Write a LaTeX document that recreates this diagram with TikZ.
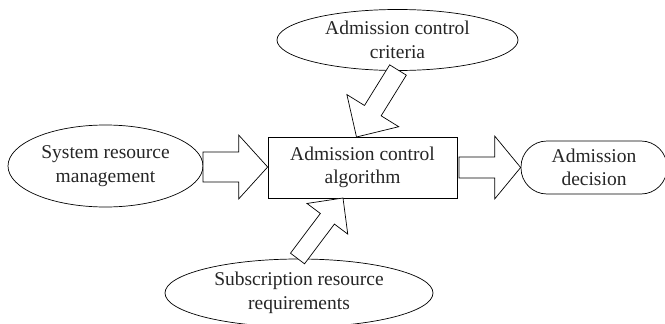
\documentclass[tikz,border=0pt]{standalone}
\usepackage{fontspec}
\setmainfont{Liberation Serif}
\usetikzlibrary{shapes.geometric,calc}
\tikzset{
  lbl/.style={font=\fontsize{19.5}{23.5}\selectfont, align=center, text=black!85},
  oval/.style={ellipse, draw, line width=0.7pt, fill=white, inner sep=0pt, lbl},
  algbox/.style={rectangle, draw, line width=0.7pt, fill=white, inner sep=0pt, lbl},
  pill/.style={rectangle, draw, line width=0.7pt, fill=white, inner sep=0pt, rounded corners=26pt, lbl},
  blockarrow/.style={draw, line width=0.7pt, fill=white, line join=miter}
}
% #1 tail, #2 tip, #3 shaft half width, #4 head half width, #5 head length
\newcommand\blockarr[5]{%
  \coordinate (bC) at ($(#2)!#5pt!(#1)$);
  \draw[blockarrow]
    ($(#1)!#3pt!90:(#2)$) -- ($(bC)!#3pt!90:(#2)$) -- ($(bC)!#4pt!90:(#2)$) -- (#2)
    -- ($(bC)!#4pt!-90:(#2)$) -- ($(bC)!#3pt!-90:(#2)$) -- ($(#1)!#3pt!-90:(#2)$) -- cycle;
}
\begin{document}
\begin{tikzpicture}[x=1pt,y=-1pt]
\useasboundingbox (0,0) rectangle (665,324);
% nodes
\node[oval, minimum width=241pt, minimum height=61pt] (crit) at (397.5,40) {Admission control\\criteria};
\node[oval, minimum width=195pt, minimum height=82pt] (sys) at (105.5,166) {System resource\\management};
\node[algbox, minimum width=189pt, minimum height=61pt] (alg) at (362.5,167.5) {Admission control\\algorithm};
\node[pill, minimum width=146pt, minimum height=53pt] (dec) at (594,167.5) {Admission\\decision};
\node[oval, minimum width=268pt, minimum height=68pt] (sub) at (299,293) {Subscription resource\\requirements};
% arrow end points
\coordinate (t1) at (203,167);   \coordinate (h1) at (alg.west |- t1);
\coordinate (t2) at (459,167.5); \coordinate (h2) at (dec.west);
\coordinate (t3) at (398,70); \coordinate (h3) at (356.5,137);
\coordinate (t4) at (297.5,258.5); \coordinate (h4) at (343,198);
\blockarr{t1}{h1}{15}{32}{29}
\blockarr{t2}{h2}{10.5}{31.5}{26}
\blockarr{t3}{h3}{9.8}{30.5}{31}
\blockarr{t4}{h4}{8.8}{25.5}{26}
\end{tikzpicture}
\end{document}
